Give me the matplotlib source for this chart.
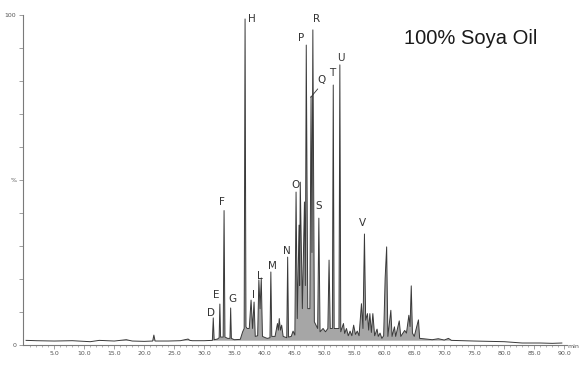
import numpy as np
import matplotlib
matplotlib.use("Agg")
import matplotlib.pyplot as plt

# chromatogram trace (retention time in min, relative intensity in %)
trace_t = [0.3, 2.0, 5.0, 8.0, 10.0, 11.0, 12.5, 15.0, 17.0, 18.0, 20.0, 21.4, 21.6, 21.8,
           24.0, 26.0, 27.3, 27.6, 28.0, 30.0, 31.35, 31.5, 31.65, 32.2, 32.48, 32.6, 32.72,
           33.15, 33.3, 33.45, 33.9, 34.28, 34.4, 34.52, 35.0, 36.0, 36.4, 36.65, 36.8, 36.95,
           37.15, 37.5, 37.8, 38.05, 38.3, 38.5, 38.9, 39.1, 39.3, 39.5, 39.7, 40.2, 40.5,
           40.95, 41.1, 41.25, 41.8, 42.2, 42.35, 42.5, 42.7, 42.9, 43.15, 43.75, 43.9,
           44.05, 44.5, 44.8, 45.1, 45.3, 45.5, 45.8, 45.9, 46.0, 46.35, 46.7, 46.85,
           47.0, 47.25, 47.6, 47.8, 47.95, 48.1, 48.35, 48.9, 49.1, 49.3, 49.8, 50.2,
           50.6, 50.8, 51.0, 51.35, 51.5, 51.65, 52.3, 52.45, 52.6, 52.75, 53.2, 53.4, 53.7, 54.0,
           54.3, 54.6, 54.9, 55.2, 55.5, 55.8, 56.2, 56.45, 56.7, 56.9, 57.2, 57.4,
           57.6, 57.85, 58.1, 58.4, 58.8, 59.0, 59.3, 59.6, 59.9, 60.15, 60.4, 60.6,
           61.1, 61.3, 61.7, 61.9, 62.5, 62.75, 63.4, 63.7, 64.1, 64.3, 64.5, 64.7,
           65.0, 65.7, 65.9, 66.5, 67.0, 68.0, 69.0, 70.0, 70.7, 71.2, 73.0, 75.0,
           78.0, 80.0, 81.5, 83.0, 86.0, 88.0, 89.6]
trace_y = [1.4, 1.3, 1.2, 1.3, 1.1, 1.0, 1.4, 1.2, 1.6, 1.2, 1.1, 1.2, 3.0, 1.2,
           1.2, 1.3, 1.8, 1.4, 1.3, 1.3, 1.4, 8.2, 1.6, 1.8, 2.2, 12.4, 2.4,
           2.4, 40.7, 2.4, 2.0, 2.0, 11.2, 2.0, 1.6, 1.7, 4.0, 5.0, 98.7, 5.5,
           5.0, 5.0, 13.6, 5.0, 13.0, 2.6, 2.8, 19.7, 11.0, 20.3, 2.6, 2.2, 2.0,
           2.2, 22.1, 2.6, 2.6, 6.5, 4.5, 8.0, 4.5, 6.0, 2.6, 2.2, 26.6,
           2.4, 2.6, 4.2, 3.0, 46.3, 8.0, 36.3, 18.0, 49.3, 11.0, 43.3, 18.0,
           90.8, 11.0, 11.0, 75.2, 28.0, 95.4, 7.0, 5.0, 38.4, 4.0, 5.0, 4.0,
           5.0, 25.7, 5.0, 5.0, 78.7, 5.0, 5.0, 5.0, 84.8, 4.0, 6.5, 3.5, 5.0, 2.8,
           4.2, 2.8, 6.0, 3.2, 4.2, 2.8, 12.5, 5.0, 33.6, 7.5, 9.5, 4.5,
           9.5, 3.8, 9.5, 2.8, 4.8, 2.6, 3.6, 2.0, 2.8, 20.3, 29.7, 2.6,
           10.5, 2.6, 5.5, 2.6, 7.3, 2.6, 4.4, 3.6, 9.0, 5.6, 17.9, 3.6,
           2.6, 7.6, 2.0, 1.9, 1.8, 1.6, 1.9, 1.5, 2.0, 1.4, 1.3, 1.2,
           1.1, 1.0, 0.8, 0.6, 0.6, 0.5, 0.6]

# peak labels and where they sit
peak_names = ["D", "E", "F", "G", "H", "I", "L", "M", "N", "O", "P", "Q", "R", "S", "T", "U", "V"]
label_t = [31.2, 32.0, 32.9, 34.7, 38.0, 38.2, 39.3, 41.3, 43.8, 45.2, 46.1, 49.6, 48.8, 49.0, 51.3, 52.8, 56.3]
label_y = [9.7, 15.1, 43.3, 13.9, 98.7, 15.1, 20.9, 23.9, 28.5, 48.4, 92.9, 80.2, 98.7, 42.1, 82.3, 86.9, 36.9]

title = "100% Soya Oil"

fig = plt.figure(figsize=(5.81, 3.71), dpi=100)
ax = fig.add_axes([0.039, 0.0701, 0.9368, 0.8903])

t = np.array(trace_t)
y = np.array(trace_y)
ax.fill_between(t, y, 1.3, where=y > 1.3, interpolate=True, color="#a6a6a6", lw=0)
ax.plot(t, y, color="#3a3a3a", lw=0.7)

for name, lt, ly in zip(peak_names, label_t, label_y):
    ax.text(lt, ly, name, ha="center", va="center", fontsize=7.5,
            color="#333333", family="DejaVu Sans")
# leader line for Q
ax.plot([48.9, 47.75], [77.5, 75.0], color="#333333", lw=0.6)

ax.text(0.824, 0.929, title, transform=ax.transAxes, ha="center", va="center",
        fontsize=14.5, family="Liberation Sans", color="#1a1a1a")

ax.set_xlim(-0.27, 90.45)
ax.set_ylim(0, 100)
for s in ["top", "right"]:
    ax.spines[s].set_visible(False)
for s in ["left", "bottom"]:
    ax.spines[s].set_color("#7a7a7a")
    ax.spines[s].set_linewidth(0.8)

ax.set_xticks(np.arange(5, 91, 5))
ax.set_xticklabels(["%.1f" % v for v in np.arange(5, 91, 5)])
ax.set_xticks(np.arange(1, 91, 1), minor=True)
ax.set_yticks(np.arange(0, 101, 10))
ax.set_yticklabels(["0", "", "", "", "", "%", "", "", "", "", "100"])
ax.tick_params(axis="both", which="major", length=3, width=0.5, color="#7a7a7a",
               labelsize=4.5, labelcolor="#555555", pad=1.5)
ax.tick_params(axis="x", which="minor", length=1.5, width=0.4, color="#7a7a7a")
ax.text(1.012, -0.005, "min", transform=ax.transAxes, fontsize=4.5, color="#555555",
        ha="center", va="center")

fig.savefig("out.png", dpi=100)
